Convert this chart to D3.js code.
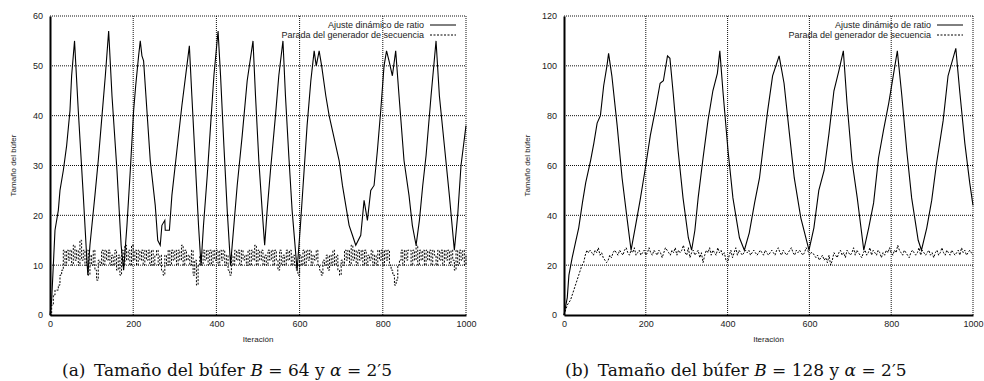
<!DOCTYPE html>
<html>
<head>
<meta charset="utf-8">
<script src="https://cdn.jsdelivr.net/npm/d3@7"></script>
<style>
  body { margin: 0; background: #fff; }
  svg { display: block; }
</style>
</head>
<body>
<svg id="chart" width="984" height="381"></svg>
<script>
// ---- data -------------------------------------------------------------
const xTicks = [0, 200, 400, 600, 800, 1000];
const yTicksA = [0, 10, 20, 30, 40, 50, 60];
const yTicksB = [0, 20, 40, 60, 80, 100, 120];
const legendLabels = ["Ajuste dinámico de ratio", "Parada del generador de secuencia"];
const xLabel = "Iteración";
const yLabel = "Tamaño del búfer";

// (a) B = 64 — dynamic ratio adjustment
const iterA = [0,4,12,20,24,32,40,48,52,59,68,80,88,91,96,108,116,124,133,141,149,161,171,177,185,193,201,206,213,217,221,225,233,241,253,259,265,269,276,277,287,293,305,317,329,335,341,349,357,363,369,378,386,394,404,410,418,426,434,442,450,462,474,488,494,502,510,516,522,530,542,550,560,566,574,582,594,602,610,618,627,635,640,647,653,663,671,679,687,695,703,711,719,727,735,747,755,763,771,779,787,795,803,809,815,823,831,839,851,863,871,880,888,896,904,916,928,936,948,960,972,980,988,1000];
const ratioA = [0,3,17,21,25,29,34,41,48,55,41,24,12,8,14,24,31,39,48,57,44,29,14,9,18,29,41,46,52,55,52,51,41,31,22,15,14,18,19,17,17,24,33,42,50,54,44,31,18,10,18,28,38,48,57,48,34,21,10,18,26,36,47,55,44,31,21,14,21,29,40,48,55,44,32,21,9,18,28,38,47,53,50,53,50,44,40,37,34,31,26,22,18,16,14,16,23,19,25,26,33,41,50,53,51,48,53,44,31,24,18,14,19,26,32,44,55,44,34,24,13,20,30,38];

// (a) B = 64 — sequence generator stop, one value every 4 iterations
const stopA = [
  0,2,4,5,5,6,8,9, 13,10,13,11,13,10,14,11, 13,10,15,11,13,10,13,8, 12,10,13,9,7,11,10,13,
  10,13,11,13,10,12,10,13, 9,12,8,13,10,14,11,13, 10,14,11,13,10,13,11,13, 10,13,11,13,10,13,10,12,
  13,10,12,9,8,12,10,13, 10,13,11,13,10,13,11,14, 10,13,11,12,10,13,8,11, 6,10,12,10,13,11,13,10,
  13,10,13,11,13,10,13,11, 13,10,12,9,8,12,10,13, 11,13,10,13,11,12,10,13, 10,13,11,14,10,13,11,13,
  10,12,10,13,11,13,10,13, 11,9,13,10,12,10,13,11, 13,10,12,10,9,8,12,10, 13,10,13,11,13,10,12,11,
  13,10,9,8,11,10,12,9, 12,10,13,10,12,9,8,11, 10,13,11,13,10,14,11,13, 10,13,11,13,10,13,10,12,
  11,13,10,12,10,13,11,13, 10,13,11,13,10,9,8,6, 7,10,11,13,10,13,11,13, 13,10,13,11,14,10,13,11,
  13,10,13,11,13,10,13,12, 10,13,11,13,10,13,11,13, 10,13,11,9,13,10,13,11, 13,10,12
];

// (b) B = 128 — dynamic ratio adjustment
const iterB = [0,8,12,20,28,36,45,53,65,73,81,89,97,105,109,117,130,142,154,164,174,186,198,211,223,235,243,253,259,267,279,291,304,312,320,328,340,352,364,375,381,389,401,413,429,441,453,466,478,486,498,510,526,538,551,563,579,599,611,623,636,648,660,672,683,692,704,717,733,745,757,769,781,794,806,815,826,838,850,866,874,887,899,911,927,939,958,968,980,992,1000];
const ratioB = [0,7,16,23,29,35,45,53,62,69,77,80,92,100,105,96,76,55,39,26,35,46,58,72,82,93,94,104,103,89,66,47,31,26,34,47,63,78,90,97,106,89,66,47,31,26,33,45,55,66,82,96,104,93,73,55,39,26,35,50,58,73,90,98,106,85,62,47,26,35,45,63,74,85,97,106,88,66,47,30,26,35,46,61,78,96,107,89,69,53,44];

// (b) B = 128 — sequence generator stop, one value every 4 iterations
const stopB = [
  0,2,4,5,6,8,10,12, 14,16,18,20,21,24,26,25, 26,25,24,26,25,27,24,25, 23,22,21,22,24,23,25,26,
  25,24,26,25,24,26,27,25, 24,26,25,27,24,25,26,24, 25,26,24,25,27,25,24,26, 25,24,26,25,23,25,27,26,
  25,24,26,25,27,24,26,25, 26,28,25,24,27,23,25,26, 24,25,26,23,25,21,24,26, 25,27,24,26,25,24,27,25,
  26,24,25,22,21,24,26,23, 25,27,24,26,25,24,25,26, 25,26,24,25,26,25,24,25, 26,25,24,26,25,24,25,26,
  25,24,26,27,25,24,26,25, 24,25,26,27,25,24,26,25, 26,25,24,25,27,26,24,25, 25,24,23,24,22,23,24,22,
  23,21,24,20,22,25,24,23, 25,26,24,25,23,26,25,24, 25,27,24,26,25,24,23,25, 26,24,25,27,24,26,25,24,
  26,25,23,25,24,26,25,27, 25,24,26,25,28,26,25,24, 26,25,24,23,25,26,25,24, 25,27,24,26,25,24,25,26,
  24,25,23,25,26,24,25,27, 25,24,26,25,24,26,25,24, 25,26,24,27,25,26,24,25, 26,25,24
];
const stopStep = 4;

// ---- drawing ----------------------------------------------------------
const svg = d3.select("#chart");
const tickFont = "'Liberation Sans', Arial, Helvetica, sans-serif";

function drawPanel(cfg) {
  const x = d3.scaleLinear().domain([0, 1000]).range(cfg.xRange);
  const y = d3.scaleLinear().domain([0, cfg.yMax]).range([315, 16]);
  const g = svg.append("g");
  const [x0, x1] = cfg.xRange;
  const [yb, yt] = y.range();

  // dotted grid
  g.append("g").selectAll("line").data(xTicks.slice(1, -1)).join("line")
    .attr("x1", d => x(d)).attr("x2", d => x(d)).attr("y1", yb).attr("y2", yt)
    .attr("stroke", "#111").attr("stroke-width", 1).attr("stroke-dasharray", "1,1");
  g.append("g").selectAll("line").data(cfg.yTicks.slice(1, -1)).join("line")
    .attr("x1", x0).attr("x2", x1).attr("y1", d => y(d)).attr("y2", d => y(d))
    .attr("stroke", "#111").attr("stroke-width", 1).attr("stroke-dasharray", "1,1");

  // top and right frame edges
  g.append("line").attr("x1", x0).attr("x2", x1).attr("y1", yt).attr("y2", yt)
    .attr("stroke", "#111").attr("stroke-dasharray", "1,1");
  g.append("line").attr("x1", x1).attr("x2", x1).attr("y1", yb).attr("y2", yt)
    .attr("stroke", "#111").attr("stroke-dasharray", "1,1");

  // axes
  const xAxis = g.append("g").attr("transform", `translate(0,${yb})`)
    .call(d3.axisBottom(x).tickValues(xTicks).tickSize(0).tickPadding(6).tickFormat(d3.format("d")));
  const yAxis = g.append("g").attr("transform", `translate(${x0},0)`)
    .call(d3.axisLeft(y).tickValues(cfg.yTicks).tickSize(0).tickPadding(7).tickFormat(d3.format("d")));
  [xAxis, yAxis].forEach(a => {
    a.select(".domain").attr("stroke", "#000").attr("stroke-width", 2);
    a.selectAll("text").attr("font-family", tickFont).attr("font-size", 9).attr("fill", "#222");
  });

  // series
  const solid = d3.line().x(d => x(d[0])).y(d => y(d[1]));
  g.append("path")
    .datum(cfg.iters.map((it, i) => [it, cfg.ratio[i]]))
    .attr("d", solid).attr("fill", "none").attr("stroke", "#000").attr("stroke-width", 1.1);
  const stopLine = d3.line().curve(cfg.stepCurve ? d3.curveStepAfter : d3.curveLinear)
    .x(d => x(d[0])).y(d => y(d[1]));
  g.append("path")
    .datum(cfg.stop.map((v, i) => [i * stopStep, v]))
    .attr("d", stopLine).attr("fill", "none").attr("stroke", "#000").attr("stroke-width", 1)
    .attr("stroke-dasharray", "2,1.5");

  // legend
  const lx = x1 - 10;
  legendLabels.forEach((lab, i) => {
    const ly = 25 + i * 10;
    g.append("text").attr("x", lx - 32).attr("y", ly + 3).attr("text-anchor", "end")
      .attr("font-family", tickFont).attr("font-size", 9).attr("fill", "#222").text(lab);
    g.append("line").attr("x1", lx - 26).attr("x2", lx).attr("y1", ly).attr("y2", ly)
      .attr("stroke", "#000").attr("stroke-width", 1)
      .attr("stroke-dasharray", i === 0 ? null : "2,1.5");
  });

  // axis titles
  g.append("text").attr("x", (x0 + x1) / 2).attr("y", 342).attr("text-anchor", "middle")
    .attr("font-family", tickFont).attr("font-size", 8).attr("fill", "#222").text(xLabel);
  g.append("text").attr("transform", `translate(${cfg.yLabelX},${(yb + yt) / 2}) rotate(-90)`)
    .attr("text-anchor", "middle").attr("font-family", tickFont).attr("font-size", 8)
    .attr("fill", "#222").text(yLabel);

  // caption
  const cap = svg.append("text").attr("x", cfg.capX).attr("y", 376)
    .attr("font-family", "'DejaVu Serif', 'Liberation Serif', serif").attr("font-size", 17)
    .attr("fill", "#111");
  cap.append("tspan").text(`(${cfg.tag})\u2002Tamaño del búfer `);
  cap.append("tspan").attr("font-style", "italic").text("B");
  cap.append("tspan").text(` = ${cfg.size} y `);
  cap.append("tspan").attr("font-style", "italic").text("α");
  cap.append("tspan").text(" = 2′5");
}

drawPanel({ xRange: [50, 466], yMax: 60, yTicks: yTicksA, iters: iterA, ratio: ratioA,
            stop: stopA, stepCurve: true, yLabelX: 16, capX: 62, tag: "a", size: 64 });
drawPanel({ xRange: [564, 973], yMax: 120, yTicks: yTicksB, iters: iterB, ratio: ratioB,
            stop: stopB, stepCurve: false, yLabelX: 530, capX: 565, tag: "b", size: 128 });
</script>
</body>
</html>
